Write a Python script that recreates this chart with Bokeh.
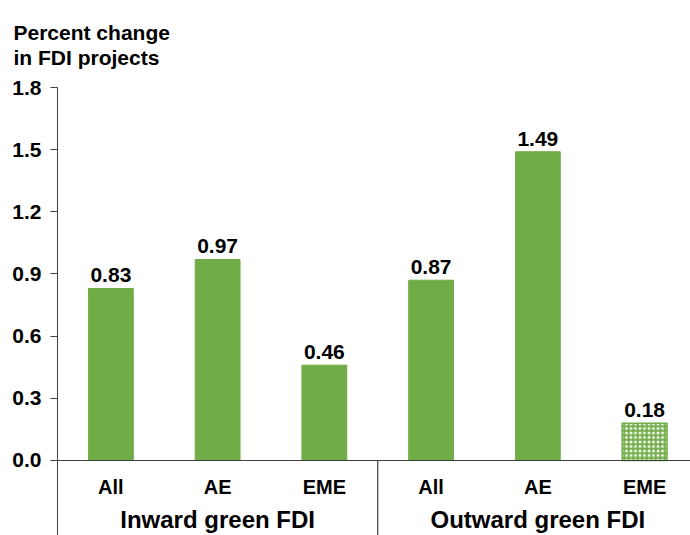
from bokeh.plotting import figure
from bokeh.models import ColumnDataSource, FixedTicker, Span, Title
from bokeh.core.properties import value
from bokeh.embed import file_html
from bokeh.resources import INLINE

title_lines = ["Percent change", "in FDI projects"]
groups = ["Inward green FDI", "Outward green FDI"]
categories = ["All", "AE", "EME", "All", "AE", "EME"]
values = [0.83, 0.97, 0.46, 0.87, 1.49, 0.18]
value_labels = ["0.83", "0.97", "0.46", "0.87", "1.49", "0.18"]
hatched = [False, False, False, False, False, True]
y_ticks = [0.0, 0.3, 0.6, 0.9, 1.2, 1.5, 1.8]

GREEN = "#70AD47"
AX = "#404040"
FONT = "Liberation Sans"

x = list(range(len(categories)))
y_min = -0.362

p = figure(width=690, height=535, output_backend="svg", toolbar_location=None,
           x_range=(-0.5, 5.43), y_range=(y_min, 1.8),
           min_border_left=57, min_border_right=0, min_border_top=87, min_border_bottom=0)
p.outline_line_color = None
p.grid.visible = False
p.xaxis.visible = False

yax = p.yaxis[0]
yax.ticker = FixedTicker(ticks=y_ticks)
yax.major_label_overrides = {t: f"{t:.1f}" for t in y_ticks}
yax.major_label_text_font = FONT
yax.major_label_text_font_style = "bold"
yax.major_label_text_font_size = "21px"
yax.major_label_text_color = "black"
yax.major_tick_out = 7
yax.major_tick_in = 0
yax.minor_tick_line_color = None
yax.axis_line_color = AX
yax.major_tick_line_color = AX
yax.major_label_standoff = 9

solid = [i for i in x if not hatched[i]]
hat = [i for i in x if hatched[i]]
src_s = ColumnDataSource(dict(x=solid, top=[values[i] for i in solid]))
src_h = ColumnDataSource(dict(x=hat, top=[values[i] for i in hat]))
p.vbar(x="x", top="top", width=0.42, bottom=0, source=src_s,
       fill_color=GREEN, line_color=GREEN)
p.vbar(x="x", top="top", width=0.42, bottom=0, source=src_h,
       fill_color="white", line_color=GREEN, line_width=1.5,
       hatch_pattern="cross", hatch_color=GREEN, hatch_scale=4.5, hatch_weight=2)

lab = ColumnDataSource(dict(x=x, y=values, t=value_labels))
p.text(x="x", y="y", text="t", source=lab, text_align="center", text_baseline="bottom",
       y_offset=-6, text_font=value(FONT), text_font_style="bold",
       text_font_size="21px", text_color="black")

p.add_layout(Span(location=0, dimension="width", line_color=AX, line_width=1.2))

cat = ColumnDataSource(dict(x=x, y=[0] * len(x), t=categories))
p.text(x="x", y="y", text="t", source=cat, text_align="center", text_baseline="top",
       y_offset=16, text_font=value(FONT), text_font_style="bold",
       text_font_size="20px", text_color="black")

gx = [1, 4]
gsrc = ColumnDataSource(dict(x=gx, y=[0, 0], t=groups))
p.text(x="x", y="y", text="t", source=gsrc, text_align="center", text_baseline="top",
       y_offset=46, text_font=value(FONT), text_font_style="bold",
       text_font_size="24px", text_color="black")

p.segment(x0=[2.5], y0=[0], x1=[2.5], y1=[y_min], line_color=AX, line_width=1.2)

p.add_layout(Title(text="\n".join(title_lines), align="left", offset=-44, standoff=36,
                   text_font=FONT, text_font_style="bold", text_font_size="21px",
                   text_color="black", text_line_height=1.1), "above")

open("out.html", "w").write(file_html(p, INLINE))
